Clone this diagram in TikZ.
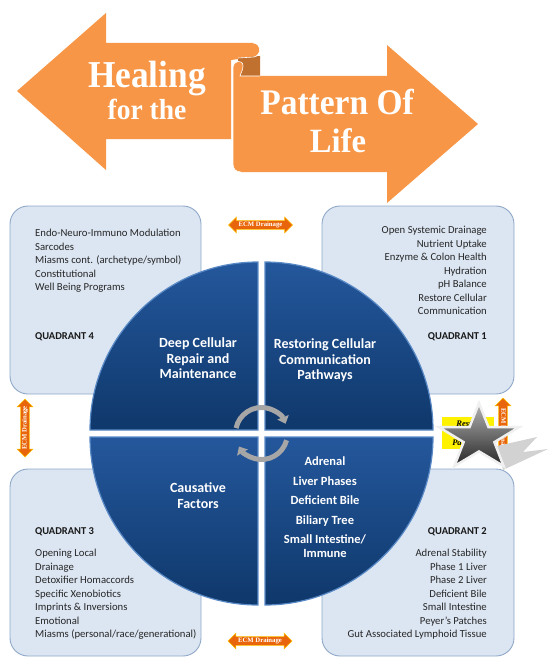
\documentclass[tikz,border=0pt]{standalone}
\usepackage{fontspec}
\setmainfont{Carlito}
\newfontfamily\titlefont{Liberation Serif}
\usetikzlibrary{shapes.geometric,shapes.arrows,arrows.meta}
\definecolor{banner}{HTML}{F79646}
\definecolor{bannerdark}{HTML}{C0702F}
\definecolor{boxfill}{HTML}{DCE6F2}
\definecolor{boxline}{HTML}{8FA8C8}
\definecolor{quadtop}{HTML}{24579C}
\definecolor{quadbot}{HTML}{0F386B}
\definecolor{quadedge}{HTML}{5A8AC6}
\definecolor{ecmorange}{HTML}{E8650C}
\definecolor{ecmedge}{HTML}{FFC000}
\definecolor{turngray}{HTML}{A6A6A6}

\begin{document}
\begin{tikzpicture}[x=1pt, y=-1pt,
    box/.style={draw=boxline, line width=0.9pt, fill=boxfill, rounded corners=18pt},
    boxtext/.style={inner sep=0pt, text=black!85, font=\fontsize{10.7}{13.5}\selectfont},
    quadhead/.style={inner sep=0pt, text=black!90, font=\bfseries\fontsize{10.5}{13.5}\selectfont},
    quad/.style={top color=quadtop, bottom color=quadbot, draw=quadedge, line width=1.2pt},
    quadtext/.style={inner sep=0pt, text=white, align=center, font=\bfseries\fontsize{14}{15.5}\selectfont},
    ecmarrow/.style={double arrow, double arrow head extend=3.5pt, fill=ecmorange, draw=ecmedge,
        line width=0.6pt, inner sep=1pt, minimum height=64pt, text=white,
        font=\titlefont\bfseries\fontsize{6.7}{6.7}\selectfont},
    turnarrow/.style={draw=turngray, line width=5pt, -{Triangle[width=12pt,length=7pt]}},
    title/.style={text=white, anchor=base, inner sep=0pt}]
    \useasboundingbox (0,0) rectangle (548,658);

    % banner
    \fill[banner] (17,91) -- (106,13) -- (106,43) -- (253,43) .. controls (261,43) and (262,55) .. (254,57)
        -- (231,60) -- (231,139) -- (106,139) -- (106,170) -- cycle;
    \fill[bannerdark] (238,58) -- (260,56) -- (260,76) -- (238,76) -- cycle;
    \fill[banner] (233,68) .. controls (233,60) and (243,59) .. (243,66) .. controls (243,71) and (240,74) .. (240,76)
        -- (387,76) -- (387,45) -- (478,124) -- (387,203) -- (387,172) -- (241,172)
        .. controls (236,172) and (233,169) .. (233,164) -- cycle;
    \draw[white, line width=0.6pt] (241,172) .. controls (236,172) and (233,169) .. (233,164) -- (233,68)
        .. controls (233,60) and (243,59) .. (243,66) .. controls (243,71) and (240,74) .. (240,76) -- (260,76);
    \draw[white, line width=0.6pt] (238,58) -- (254,57) .. controls (262,55) and (261,43) .. (253,43);
    \node[title, xscale=0.93] (heal) at (147,88) {\titlefont\bfseries\fontsize{38}{38}\selectfont Healing};
    \node[title, xscale=0.95] (forthe) at (147,120) {\titlefont\bfseries\fontsize{29}{29}\selectfont for the};
    \node[title, xscale=0.93] (pattern) at (337,115) {\titlefont\bfseries\fontsize{36}{36}\selectfont Pattern Of};
    \node[title, xscale=0.96] (life) at (338,152) {\titlefont\bfseries\fontsize{34}{34}\selectfont Life};

    % quadrant boxes
    \draw[box] (10,206) rectangle (201,394);
    \draw[box] (322,206) rectangle (514,394);
    \draw[box] (10,469) rectangle (201,656);
    \draw[box] (322,469) rectangle (514,656);

    \node[boxtext, anchor=north west, align=left] (q4list) at (35,229) {Endo-Neuro-Immuno Modulation\\Sarcodes\\
        Miasms cont. (archetype/symbol)\\Constitutional\\Well Being Programs};
    \node[quadhead, anchor=base west] (q4) at (35,339) {QUADRANT 4};
    \node[boxtext, anchor=north east, align=right] (q1list) at (487,226) {Open Systemic Drainage\\Nutrient Uptake\\
        Enzyme \& Colon Health\\Hydration\\pH Balance\\Restore Cellular\\Communication};
    \node[quadhead, anchor=base east] (q1) at (487,339) {QUADRANT 1};
    \node[quadhead, anchor=base west] (q3) at (35,534) {QUADRANT 3};
    \node[boxtext, anchor=north west, align=left] (q3list) at (35,549) {Opening Local\\Drainage\\Detoxifier Homaccords\\
        Specific Xenobiotics\\Imprints \& Inversions\\Emotional\\Miasms (personal/race/generational)};
    \node[quadhead, anchor=base east] (q2) at (487,534) {QUADRANT 2};
    \node[boxtext, anchor=north east, align=right] (q2list) at (487,549) {Adrenal Stability\\Phase 1 Liver\\Phase 2 Liver\\
        Deficient Bile\\Small Intestine\\Peyer's Patches\\Gut Associated Lymphoid Tissue};

    % drainage arrows
    \node[ecmarrow] (ecmtop) at (260.5,225) {ECM Drainage};
    \node[ecmarrow] (ecmbot) at (260,641) {ECM Drainage};
    \node[ecmarrow, rotate=90, minimum height=58pt] (ecmleft) at (25,428) {ECM Drainage};

    % wheel
    \coordinate (hub) at (261.5,433.5);
    \path[quad] (258,430) -- (90,430) arc[start angle=180, end angle=90, radius=168pt] -- cycle;
    \path[quad] (265,430) -- (265,262) arc[start angle=90, end angle=0, radius=168pt] -- cycle;
    \path[quad] (258,437) -- (90,437) arc[start angle=180, end angle=270, radius=168pt] -- cycle;
    \path[quad] (265,437) -- (433,437) arc[start angle=0, end angle=-90, radius=168pt] -- cycle;

    \node[quadtext, anchor=north] (deep) at (198,337.5) {Deep Cellular\\Repair and\\Maintenance};
    \node[quadtext, anchor=north] (restoring) at (325,338.5) {Restoring Cellular\\Communication\\Pathways};
    \node[quadtext, anchor=north] (causative) at (198,482.5) {Causative\\Factors};
    \node[quadtext, anchor=north, font=\bfseries\fontsize{12.5}{19.5}\selectfont] (adrenal) at (325,457)
        {Adrenal\\Liver Phases\\Deficient Bile\\Biliary Tree\\Small Intestine/\\[-5.5pt]Immune};

    \draw[turnarrow] ([shift={(168:26pt)}]hub) arc[start angle=168, end angle=22, radius=26pt];
    \draw[turnarrow] ([shift={(-15:26pt)}]hub) arc[start angle=-15, end angle=-150, radius=26pt];

    % star corner
    \fill[yellow] (442,417) rectangle (494,449);
    \node[inner sep=0pt, font=\titlefont\bfseries\itshape\fontsize{8.5}{8.5}\selectfont] (rest) at (464,424) {Rest};
    \node[inner sep=0pt, font=\titlefont\bfseries\itshape\fontsize{8.5}{8.5}\selectfont] (pa) at (457,443) {Pa};
    \node[ecmarrow, rotate=-90] (ecmright) at (503,430) {ECM Drainage};
    \fill[gray!35] (497,446) -- (537,437) -- (523,452) -- (548,449) -- (503,470) -- cycle;
    \node[star, star points=5, star point ratio=2.6, minimum size=84pt, yscale=0.83, inner sep=0pt,
        top color=gray!60, bottom color=black!85, draw=gray!12, line width=2.5pt] (star) at (479,438) {};
\end{tikzpicture}
\end{document}
